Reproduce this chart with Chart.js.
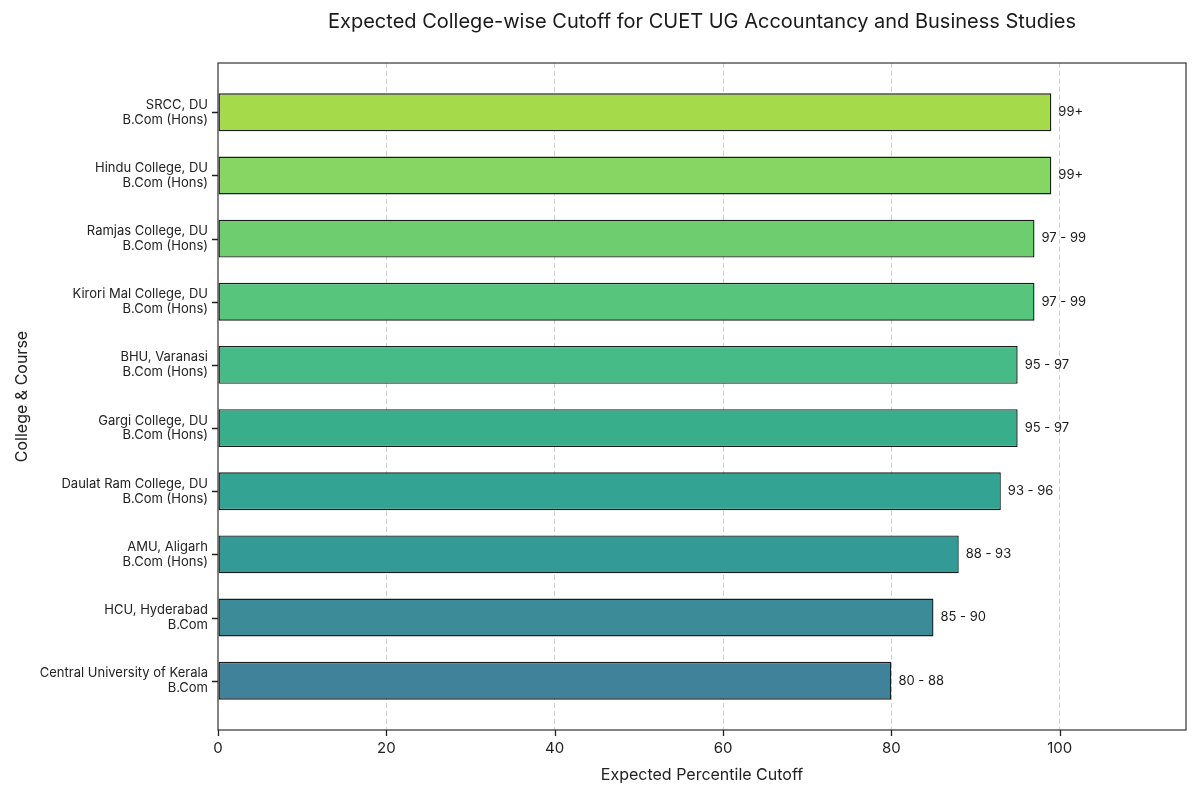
<!DOCTYPE html>
<html>
<head>
<meta charset="utf-8">
<script src="https://cdn.jsdelivr.net/npm/chart.js@4.4.1/dist/chart.umd.min.js"></script>
<style>
  html, body { margin: 0; padding: 0; background: #fff; }
  #wrap { width: 1200px; height: 800px; }
</style>
</head>
<body>
<div id="wrap"><canvas id="mycanvas" width="1200" height="800"></canvas></div>
<script>
// data (top to bottom)
var colleges = [
	["SRCC, DU", "B.Com (Hons)"],
	["Hindu College, DU", "B.Com (Hons)"],
	["Ramjas College, DU", "B.Com (Hons)"],
	["Kirori Mal College, DU", "B.Com (Hons)"],
	["BHU, Varanasi", "B.Com (Hons)"],
	["Gargi College, DU", "B.Com (Hons)"],
	["Daulat Ram College, DU", "B.Com (Hons)"],
	["AMU, Aligarh", "B.Com (Hons)"],
	["HCU, Hyderabad", "B.Com"],
	["Central University of Kerala", "B.Com"]
];
var cutoffs = [99, 99, 97, 97, 95, 95, 93, 88, 85, 80];
var cutoffLabels = ["99+", "99+", "97 - 99", "97 - 99", "95 - 97", "95 - 97", "93 - 96", "88 - 93", "85 - 90", "80 - 88"];
var barColors = ["#a5db4b", "#87d562", "#6dcd6f", "#57c57b", "#46bb87", "#38ae8b", "#33a494", "#349a96", "#3b8c98", "#3f829a"];
var xTicks = [0, 20, 40, 60, 80, 100];

var FONT = "'Inter', 'Open Sans', sans-serif";

var points = [];
for (var i in cutoffs) {
	points.push({x: cutoffs[i], y: Number(i)});
}

// title centred over the plot area, frame, tick marks and value labels
var extras = {
	id: 'extras',
	afterDraw: function(chart) {
		var ctx = chart.ctx;
		var a = chart.chartArea;
		var xs = chart.scales.x, ys = chart.scales.y;
		ctx.save();
		ctx.strokeStyle = '#333';
		ctx.lineWidth = 1.2;
		ctx.strokeRect(a.left, a.top, a.right - a.left, a.bottom - a.top);

		ctx.strokeStyle = '#222';
		ctx.lineWidth = 1.3;
		ctx.beginPath();
		xTicks.forEach(function(v) {
			var px = Math.round(xs.getPixelForValue(v)) + 0.5;
			ctx.moveTo(px, a.bottom);
			ctx.lineTo(px, a.bottom + 6);
		});
		colleges.forEach(function(c, k) {
			var py = Math.round(ys.getPixelForValue(k)) + 0.5;
			ctx.moveTo(a.left, py);
			ctx.lineTo(a.left - 6, py);
		});
		ctx.stroke();

		ctx.fillStyle = '#1a1a1a';
		ctx.font = '20px ' + FONT;
		ctx.textAlign = 'center';
		ctx.textBaseline = 'middle';
		ctx.fillText('Expected College-wise Cutoff for CUET UG Accountancy and Business Studies', (a.left + a.right) / 2, 22);

		var meta = chart.getDatasetMeta(0);
		ctx.font = '13px ' + FONT;
		ctx.textAlign = 'left';
		meta.data.forEach(function(bar, j) {
			ctx.fillText(cutoffLabels[j], bar.x + 7, bar.y);
		});
		ctx.restore();
	}
};

var ctx = document.getElementById('mycanvas');

var barGraph = new Chart(ctx, {
	type: 'bar',
	data: {
		datasets: [{
			label: 'Expected Percentile Cutoff',
			data: points,
			backgroundColor: barColors,
			borderColor: '#1a1a1a',
			borderWidth: 1.4,
			borderSkipped: false,
			categoryPercentage: 1,
			barPercentage: 0.6
		}]
	},
	options: {
		indexAxis: 'y',
		responsive: false,
		animation: false,
		layout: { padding: { top: 63, right: 14, left: 0, bottom: 0 } },
		plugins: {
			legend: { display: false },
			tooltip: { enabled: false }
		},
		scales: {
			x: {
				type: 'linear',
				min: 0,
				max: 115,
				afterBuildTicks: function(scale) {
					scale.ticks = xTicks.map(function(v) { return {value: v}; });
				},
				afterFit: function(scale) { scale.height = 70; },
				grid: {
					color: function(c) { return c.tick && c.tick.value === 0 ? 'rgba(0,0,0,0)' : '#d0d0d0'; },
					lineWidth: 1,
					drawTicks: true,
					tickLength: 5,
					tickColor: 'rgba(0,0,0,0)'
				},
				border: { display: false, dash: [5, 3] },
				ticks: {
					color: '#222',
					font: { family: FONT, size: 15 },
					padding: 4,
					maxRotation: 0
				},
				title: {
					display: true,
					text: 'Expected Percentile Cutoff',
					color: '#222',
					font: { family: FONT, size: 16 },
					padding: { top: 0, bottom: 15 }
				}
			},
			y: {
				type: 'linear',
				reverse: true,
				offset: false,
				min: -0.78,
				max: 9.78,
				afterBuildTicks: function(scale) {
					scale.ticks = colleges.map(function(c, k) { return {value: k}; });
				},
				afterFit: function(scale) { scale.width = 218; },
				grid: {
					offset: false,
					drawOnChartArea: false,
					drawTicks: true,
					tickLength: 6,
					tickColor: 'rgba(0,0,0,0)'
				},
				border: { display: false },
				ticks: {
					color: '#222',
					font: { family: FONT, size: 13, lineHeight: 1.15 },
					padding: 4,
					callback: function(v) { return colleges[v] || ''; }
				},
				title: {
					display: true,
					text: 'College & Course',
					color: '#222',
					font: { family: FONT, size: 16 },
					padding: { top: 13, bottom: 0 }
				}
			}
		}
	},
	plugins: [extras]
});
</script>
</body>
</html>
